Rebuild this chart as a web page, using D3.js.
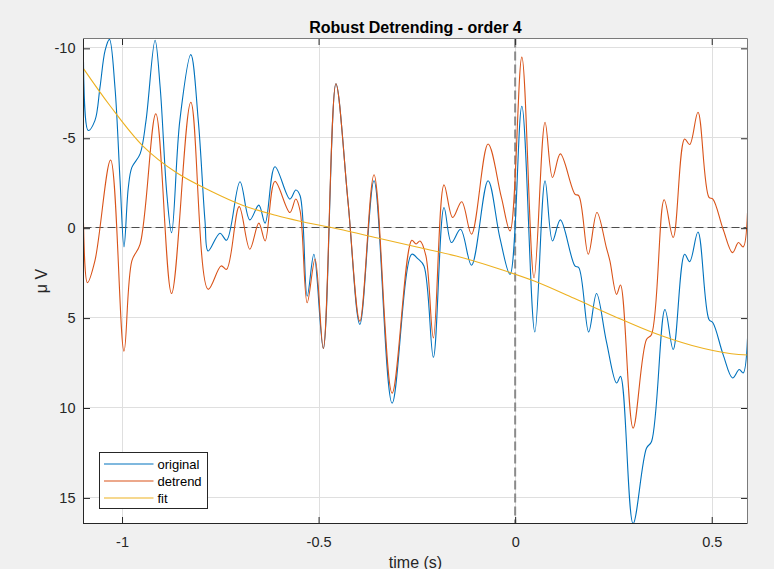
<!DOCTYPE html>
<html><head><meta charset="utf-8">
<script src="https://cdn.jsdelivr.net/npm/d3@7"></script>
<style>
html,body{margin:0;padding:0;background:#f0f0f0;}
svg{display:block;font-family:"Liberation Sans",Arial,Helvetica,sans-serif;}
</style></head><body>
<svg id="c" width="774" height="569"></svg>
<script>
// ---- data ----
const origX = [-1.098,-1.086,-1.069,-1.056,-1.043,-1.032,-1.018,-1.005,-0.995,-0.984,-0.975,-0.954,-0.939,-0.916,-0.903,-0.886,-0.874,-0.853,-0.825,-0.806,-0.789,-0.781,-0.751,-0.734,-0.700,-0.675,-0.652,-0.636,-0.611,-0.573,-0.558,-0.547,-0.529,-0.512,-0.488,-0.456,-0.425,-0.395,-0.359,-0.313,-0.263,-0.247,-0.232,-0.208,-0.181,-0.162,-0.139,-0.111,-0.069,-0.039,-0.013,0.017,0.050,0.076,0.095,0.115,0.152,0.162,0.187,0.207,0.232,0.258,0.268,0.300,0.334,0.347,0.381,0.402,0.431,0.444,0.465,0.493,0.503,0.529,0.553,0.570,0.580,0.591];
const origY = [-9.24,-5.43,-5.98,-7.84,-9.89,-10.50,-7.84,-2.64,1.04,-2.26,-3.38,-4.13,-5.98,-10.45,-7.84,-1.90,0.25,-5.98,-9.65,-5.98,-0.41,1.27,0.28,0.67,-2.58,-0.46,-1.28,-0.28,-3.42,-1.62,-2.12,-1.80,3.78,1.45,6.69,-8.03,-1.43,5.35,-2.64,9.73,1.45,1.71,2.10,7.18,-1.15,0.80,0.06,2.06,-2.64,0.52,2.57,-6.78,5.77,-2.64,0.71,-0.46,2.10,2.20,5.77,3.63,6.29,8.61,8.24,16.43,12.24,11.86,4.52,6.75,1.45,1.86,0.21,5.08,5.26,7.03,8.33,7.86,8.05,6.13];

const detX = [-1.098,-1.088,-1.069,-1.029,-0.995,-0.975,-0.954,-0.914,-0.874,-0.825,-0.781,-0.748,-0.734,-0.702,-0.675,-0.652,-0.636,-0.611,-0.573,-0.558,-0.547,-0.529,-0.509,-0.488,-0.456,-0.425,-0.395,-0.359,-0.313,-0.263,-0.252,-0.242,-0.227,-0.208,-0.181,-0.159,-0.136,-0.111,-0.069,-0.035,-0.013,0.017,0.048,0.076,0.095,0.115,0.152,0.162,0.186,0.208,0.232,0.241,0.258,0.268,0.300,0.334,0.347,0.379,0.402,0.431,0.444,0.465,0.493,0.503,0.529,0.553,0.568,0.580,0.591];
const detY = [-0.31,3.03,1.82,-3.79,6.84,1.82,0.89,-6.36,3.63,-7.00,3.40,2.10,2.29,-1.20,1.17,-0.28,0.71,-2.60,-0.87,-1.62,-0.96,4.15,1.71,6.69,-8.03,-1.43,5.17,-2.97,9.17,0.67,0.88,0.71,1.54,6.10,-2.41,-0.59,-1.47,0.33,-4.68,-1.71,0.15,-9.51,2.76,-5.89,-2.82,-4.13,-1.90,-1.80,1.45,-0.87,1.08,1.82,3.68,3.16,11.12,6.19,5.91,-1.58,0.52,-4.96,-4.65,-6.45,-1.71,-1.62,0.06,1.36,0.80,1.04,-0.87];

const fitX = [-1.098,-1.031,-0.946,-0.861,-0.776,-0.692,-0.607,-0.550,-0.450,-0.350,-0.250,-0.150,-0.050,0.050,0.150,0.250,0.350,0.450,0.550,0.591];
const fitY = [-8.87,-6.82,-4.55,-3.08,-2.08,-1.26,-0.70,-0.40,0.05,0.55,1.05,1.55,2.20,2.95,3.90,4.88,5.80,6.52,6.98,7.05];

const xTicks = [-1, -0.5, 0, 0.5];
const xTickLabels = ["-1", "-0.5", "0", "0.5"];
const yTicks = [-10, -5, 0, 5, 10, 15];
const yTickLabels = ["-10", "-5", "0", "5", "10", "15"];
const seriesNames = ["original", "detrend", "fit"];
const seriesColors = ["#0072BD", "#D95319", "#EDB120"];
const titleText = "Robust Detrending - order 4";
const xLabelText = "time (s)";
const yLabelText = "\u03bc V";
const xLimits = [-1.098, 0.591];
const yLimits = [-10.52, 16.45];

// ---- layout ----
const L = 83.5, R = 747.5, T = 38.5, B = 523.5;
const svg = d3.select("#c");
const x = d3.scaleLinear().domain(xLimits).range([L, R]);
const y = d3.scaleLinear().domain(yLimits).range([T + 0.5, B + 0.5]);
const axisCol = "#262626";

svg.append("rect").attr("width", 774).attr("height", 569).attr("fill", "#f0f0f0");
svg.append("rect").attr("x", L).attr("y", T).attr("width", R - L).attr("height", B - T).attr("fill", "#fff");

svg.append("defs").append("clipPath").attr("id", "clip")
  .append("rect").attr("x", L).attr("y", T).attr("width", R - L).attr("height", B - T);

// grid
const grid = svg.append("g").attr("stroke", "#dfdfdf").attr("stroke-width", 1);
grid.selectAll(".gx").data(xTicks).join("line")
  .attr("x1", d => Math.round(x(d)) + 0.5).attr("x2", d => Math.round(x(d)) + 0.5)
  .attr("y1", T).attr("y2", B);
grid.selectAll(".gy").data(yTicks).join("line")
  .attr("y1", d => Math.round(y(d)) - 0.5).attr("y2", d => Math.round(y(d)) - 0.5)
  .attr("x1", L).attr("x2", R);

const plot = svg.append("g").attr("clip-path", "url(#clip)");

// reference lines
plot.append("line").attr("x1", L).attr("x2", R)
  .attr("y1", Math.round(y(0)) - 0.5).attr("y2", Math.round(y(0)) - 0.5)
  .attr("stroke", "#4d4d4d").attr("stroke-width", 1).attr("stroke-dasharray", "8,4");
plot.append("line").attr("x1", x(0)).attr("x2", x(0)).attr("y1", T).attr("y2", B)
  .attr("stroke", "#8a8a8a").attr("stroke-width", 2).attr("stroke-dasharray", "9,4");

const line = d3.line().x(d => x(d[0])).y(d => y(d[1])).curve(d3.curveCatmullRom.alpha(0.5));
const series = [
  d3.zip(origX, origY),
  d3.zip(detX, detY),
  d3.zip(fitX, fitY)
];
series.forEach((s, i) => {
  plot.append("path").datum(s).attr("d", line)
    .attr("fill", "none").attr("stroke", seriesColors[i]).attr("stroke-width", 1.1)
    .attr("stroke-linejoin", "round");
});

// axes
const fs = 14.5;
const ax = svg.append("g").attr("transform", `translate(0,${B})`)
  .call(d3.axisBottom(x).tickValues(xTicks).tickFormat((d, i) => xTickLabels[i]).tickSize(-6.5).tickPadding(13));
const ay = svg.append("g").attr("transform", `translate(${L},0)`)
  .call(d3.axisLeft(y).tickValues(yTicks).tickFormat((d, i) => yTickLabels[i]).tickSize(-6.5).tickPadding(8));
const axT = svg.append("g").attr("transform", `translate(0,${T})`)
  .call(d3.axisTop(x).tickValues(xTicks).tickFormat("").tickSize(-6.5));
const ayR = svg.append("g").attr("transform", `translate(${R},0)`)
  .call(d3.axisRight(y).tickValues(yTicks).tickFormat("").tickSize(-6.5));
[ax, ay, axT, ayR].forEach(g => {
  g.select(".domain").remove();
  g.selectAll("line").attr("stroke", axisCol);
  g.selectAll("text").attr("fill", axisCol).style("font-size", fs + "px")
    .style("font-family", '"Liberation Sans",Arial,sans-serif');
});
// box
svg.append("line").attr("x1", L).attr("x2", L).attr("y1", T).attr("y2", B + 0.5).attr("stroke", axisCol);
svg.append("line").attr("x1", L).attr("x2", R).attr("y1", B).attr("y2", B).attr("stroke", axisCol);
svg.append("line").attr("x1", L).attr("x2", R).attr("y1", T).attr("y2", T).attr("stroke", "#7a7a7a");
svg.append("line").attr("x1", R).attr("x2", R).attr("y1", T).attr("y2", B).attr("stroke", "#7a7a7a");

// title & labels
svg.append("text").attr("x", (L + R) / 2).attr("y", 33).attr("text-anchor", "middle")
  .attr("fill", "#000").style("font-size", "16px").style("font-weight", "bold").text(titleText);
svg.append("text").attr("x", (L + R) / 2).attr("y", 568).attr("text-anchor", "middle")
  .attr("fill", axisCol).style("font-size", "16px").text(xLabelText);
svg.append("text").attr("transform", `translate(47,${(T + B) / 2}) rotate(-90)`).attr("text-anchor", "middle")
  .attr("fill", axisCol).style("font-size", "16px").text(yLabelText);

// legend
const lg = svg.append("g").attr("transform", "translate(99.5,452.5)");
lg.append("rect").attr("width", 108).attr("height", 56).attr("fill", "#fff").attr("stroke", axisCol).attr("stroke-width", 1);
seriesNames.forEach((n, i) => {
  const yy = 11.5 + i * 17;
  lg.append("line").attr("x1", 4.5).attr("x2", 54).attr("y1", yy).attr("y2", yy)
    .attr("stroke", seriesColors[i]).attr("stroke-width", 1.1);
  lg.append("text").attr("x", 58).attr("y", yy + 4.5).attr("fill", "#000")
    .style("font-size", "13px").text(n);
});
</script>
</body></html>
